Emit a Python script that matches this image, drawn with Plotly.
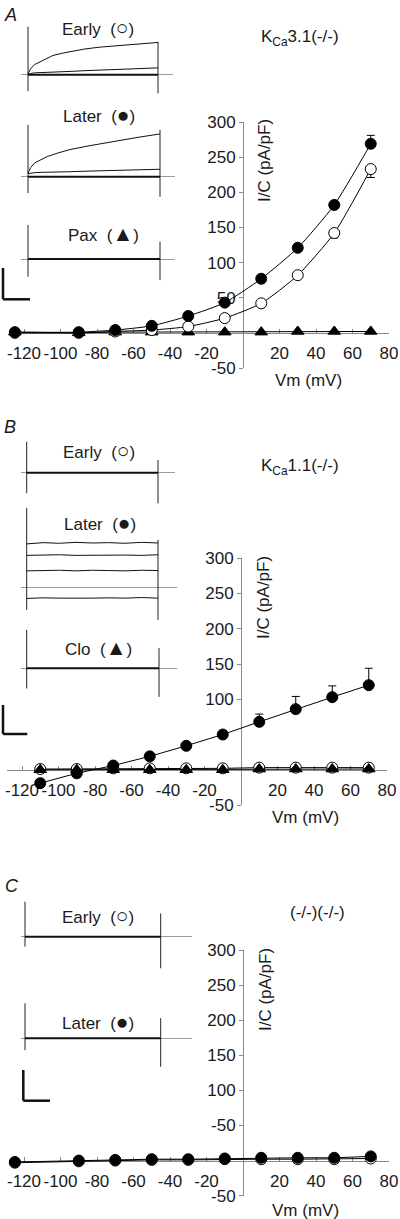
import plotly.graph_objects as go

W, H = 400, 1219
FONT = "Liberation Sans, Arial, sans-serif"

# ---------------- I-V data ----------------
A_V = [-125, -90, -70, -50, -30, -10, 10, 30, 50, 70]
A_later = [1, 1, 4, 10, 24, 43, 77, 121, 182, 269]
A_later_err = [0, 0, 1, 1, 2, 3, 3, 4, 5, 12]
A_early = [0, 0, 2, 4, 9, 21, 42, 82, 142, 233]
A_early_err = [0, 0, 1, 1, 2, 3, 3, 4, 7, 12]
A_pax = [1, 0, 1, 1, 1, 1, 1, 2, 2, 2]

B_V = [-110, -90, -70, -50, -30, -10, 10, 30, 50, 70]
B_later = [-19, -5, 6, 19, 34, 50, 68, 86, 103, 120]
B_later_err = [2, 2, 2, 3, 3, 4, 11, 18, 16, 24]
B_early = [1, 1, 2, 2, 2, 2, 3, 3, 3, 3]
B_clo = [0, 0, 0, 0, 0, 0, 1, 1, 1, 1]

C_V = [-125, -90, -70, -50, -30, -10, 10, 30, 50, 70]
C_later = [-2, 0, 1, 2, 2, 3, 4, 4, 4, 6]
C_early = [-3, -1, 0, 1, 1, 2, 2, 2, 2, 3]

X_TICKS = [-120, -100, -80, -60, -40, -20, 20, 40, 60, 80]
X_TEXT = ["-120", "-100", "-80", "-60", "-40", "-20", "20", "40", "60", "80"]
A_Y_TICKS = [-50, 50, 100, 150, 200, 250, 300]
A_Y_TEXT = ["-50", "50", "100", "150", "200", "250", "300"]
B_Y_TICKS = [-50, 100, 150, 200, 250, 300]
B_Y_TEXT = ["-50", "100", "150", "200", "250", "300"]
C_Y_TICKS = [-50, 50, 100, 150, 200, 250, 300]
C_Y_TEXT = ["-50", "-50", "100", "150", "200", "250", "300"]

# ---------------- inset (current trace) data: time in ms, current in nA ----------------
T_PULSE = [0, 480]
A_early_t = [0, 10, 25, 44, 70, 92, 130, 166, 210, 266, 320, 388, 430, 480]
A_early_I1 = [0.02, 0.2, 0.33, 0.42, 0.53, 0.62, 0.7, 0.76, 0.83, 0.89, 0.93, 0.98, 1.0, 1.04]
A_early_I2 = [0, 0.04, 0.06, 0.07, 0.08, 0.09, 0.1, 0.11, 0.13, 0.15, 0.17, 0.19, 0.2, 0.22]
A_early_trans = [[1.55, -0.53], [1.06, -0.60]]

A_later_t = [0, 10, 25, 44, 70, 107, 150, 218, 280, 340, 400, 480]
A_later_I1 = [0.12, 0.3, 0.45, 0.54, 0.65, 0.76, 0.87, 0.99, 1.09, 1.18, 1.27, 1.38]
A_later_I2 = [0.1, 0.12, 0.13, 0.14, 0.14, 0.15, 0.16, 0.18, 0.19, 0.2, 0.22, 0.24]
A_later_trans = [[1.67, -0.53], [1.51, -0.65]]

A_pax_trans = [[1.10, -0.57], [0.56, -0.68]]

B_early_trans = [[1.0, -0.66], [0.41, -0.99]]
B_later_t = [0, 60, 120, 180, 240, 300, 360, 420, 480]
B_later_I1 = [1.40, 1.44, 1.42, 1.45, 1.43, 1.44, 1.42, 1.45, 1.43]
B_later_I2 = [1.03, 1.04, 1.05, 1.03, 1.04, 1.05, 1.04, 1.03, 1.05]
B_later_I3 = [0.53, 0.54, 0.55, 0.53, 0.55, 0.54, 0.53, 0.55, 0.54]
B_later_I4 = [-0.36, -0.34, -0.35, -0.36, -0.35, -0.34, -0.35, -0.33, -0.35]
B_later_trans = [[2.56, -0.73], [1.53, -1.05]]
B_clo_trans = [[1.24, -0.65], [0.65, -0.92]]

C_early_trans = [[1.13, -0.32], [0.75, -1.02]]
C_later_trans = [[1.13, -0.38], [0.65, -0.92]]

PX_PER_NA = 31.0
X_MIN = -128


def fx(px):
    return px / W


def fy(py):
    return 1 - py / H


fig = go.Figure()
layout = dict(
    width=W, height=H, margin=dict(l=0, r=0, t=0, b=0, pad=0, autoexpand=False),
    paper_bgcolor="white", plot_bgcolor="rgba(0,0,0,0)",
    showlegend=False, font=dict(family=FONT, size=17, color="#1a1a1a"),
)
annotations = []
shapes = []

AX_COL = "#8a8a8a"


def iv_axes(idx, xl, xr, yt, yb, yticks, ytext):
    # xl, xr: pixel positions of -120 and 80 mV
    k = (xr - xl) / 200.0
    x0px = xl + 120 * k
    xmin_px = xl + (X_MIN + 120) * k
    y0px = yb - 50 / 350 * (yb - yt)
    sx = "" if idx == 1 else str(idx)
    layout["xaxis" + sx] = dict(
        domain=[fx(xmin_px), fx(xr)], range=[X_MIN, 80], anchor="free", position=fy(y0px),
        showgrid=False, zeroline=False, showline=True, linecolor=AX_COL, linewidth=1,
        ticks="inside", ticklen=4, tickcolor=AX_COL, tickvals=X_TICKS, ticktext=X_TEXT,
        tickangle=0, tickfont=dict(size=17), layer="below traces", automargin=False,
        ticklabelstandoff=5,
    )
    layout["yaxis" + sx] = dict(
        domain=[fy(yb), fy(yt)], range=[-50, 300], anchor="free", position=fx(x0px),
        showgrid=False, zeroline=False, showline=True, linecolor=AX_COL, linewidth=1,
        ticks="outside", ticklen=4, tickcolor=AX_COL, tickvals=yticks, ticktext=ytext,
        tickfont=dict(size=17), layer="below traces", automargin=False,
    )
    return "x" + sx, "y" + sx


def iv_trace(xa, ya, V, I, symbol, fill, shape, err=None, errdir=None):
    kw = {}
    if err is not None:
        zeros = [0] * len(err)
        kw["error_y"] = dict(
            type="data", symmetric=False,
            array=err if errdir == "up" else zeros,
            arrayminus=err if errdir == "down" else zeros,
            color="black", thickness=1, width=4,
        )
    fig.add_trace(go.Scatter(
        x=V, y=I, xaxis=xa, yaxis=ya, mode="lines+markers", cliponaxis=False,
        line=dict(color="black", width=1, shape=shape, smoothing=0.6),
        marker=dict(symbol=symbol, size=11, color=fill, line=dict(color="black", width=1)),
        **kw,
    ))


def inset(idx, xl, xr, t0, t1, zero_px, traces, trans, thick=True):
    sx = str(idx)
    ivals = [v for tr in traces for v in tr[1]] + [v for pair in trans for v in pair] + [0]
    imax, imin = max(ivals) + 0.05, min(ivals) - 0.05
    top_px = zero_px - imax * PX_PER_NA
    bot_px = zero_px - imin * PX_PER_NA
    tl = (xl - t0) / (t1 - t0) * 480
    tr_ = (xr - t0) / (t1 - t0) * 480
    layout["xaxis" + sx] = dict(domain=[fx(xl), fx(xr)], range=[tl, tr_], visible=False,
                                anchor="y" + sx, automargin=False)
    layout["yaxis" + sx] = dict(domain=[fy(bot_px), fy(top_px)], range=[imin, imax],
                                anchor="x" + sx, showgrid=False, showline=False,
                                showticklabels=False, ticks="", zeroline=True,
                                zerolinecolor="#9a9a9a", zerolinewidth=1, automargin=False)
    xa, ya = "x" + sx, "y" + sx
    for k, pair in enumerate(trans):
        fig.add_trace(go.Scatter(x=[T_PULSE[k], T_PULSE[k]], y=pair, xaxis=xa, yaxis=ya,
                                 mode="lines", line=dict(color="#222", width=1)))
    if thick:
        fig.add_trace(go.Scatter(x=T_PULSE, y=[0, 0], xaxis=xa, yaxis=ya, mode="lines",
                                 line=dict(color="#111", width=2)))
    for t, i in traces:
        fig.add_trace(go.Scatter(x=t, y=i, xaxis=xa, yaxis=ya, mode="lines",
                                 line=dict(color="#111", width=1)))


def text(px, py, s, size=17, italic=False, angle=0, xanchor="center"):
    annotations.append(dict(
        x=fx(px), y=fy(py), xref="paper", yref="paper", text=s, showarrow=False,
        xanchor=xanchor, yanchor="middle", textangle=angle,
        font=dict(family=FONT, size=size, color="#1a1a1a",
                  style="italic" if italic else "normal"),
    ))


def scalebar(x, ytop, ybot, xright):
    shapes.append(dict(type="line", xref="paper", yref="paper", x0=fx(x), x1=fx(x),
                       y0=fy(ytop), y1=fy(ybot), line=dict(color="#111", width=2.5)))
    shapes.append(dict(type="line", xref="paper", yref="paper", x0=fx(x), x1=fx(xright),
                       y0=fy(ybot), y1=fy(ybot), line=dict(color="#111", width=2.5)))


def sym(ch):
    return "<span style='font-size:21px'>" + ch + "</span>"


# ---------------- Panel A ----------------
xa, ya = iv_axes(1, 24, 389, 122, 368, A_Y_TICKS, A_Y_TEXT)
iv_trace(xa, ya, A_V, A_pax, "triangle-up", "black", "linear")
iv_trace(xa, ya, A_V, A_early, "circle", "white", "spline", A_early_err, "down")
iv_trace(xa, ya, A_V, A_later, "circle", "black", "spline", A_later_err, "up")

inset(4, 20.7, 172.7, 28, 158, 74.7, [(A_early_t, A_early_I1), (A_early_t, A_early_I2)], A_early_trans)
inset(5, 20.7, 175, 28, 160, 176.7, [(A_later_t, A_later_I1), (A_later_t, A_later_I2)], A_later_trans)
inset(6, 20.7, 175, 28, 160, 259, [], A_pax_trans)
scalebar(3, 268, 299.3, 30)

text(10, 15, "A", size=18, italic=True)
text(98, 27, "Early  (" + sym("○") + ")")
text(99, 115, "Later  (" + sym("●") + ")")
text(103, 234, "Pax  (" + sym("▲") + ")")
text(300, 38, "K<sub>Ca</sub>3.1(-/-)")
text(265, 161, "I/C (pA/pF)", angle=-90)
text(308, 380, "Vm (mV)")

# ---------------- Panel B ----------------
xa, ya = iv_axes(2, 22, 387, 558.3, 805, B_Y_TICKS, B_Y_TEXT)
iv_trace(xa, ya, B_V, B_early, "circle", "white", "linear")
iv_trace(xa, ya, B_V, B_clo, "triangle-up", "black", "linear")
iv_trace(xa, ya, B_V, B_later, "circle", "black", "linear", B_later_err, "up")

inset(7, 20.7, 175, 26.7, 158, 472.7, [], B_early_trans)
inset(8, 20.7, 176.7, 26.7, 158, 587.3,
      [(B_later_t, B_later_I1), (B_later_t, B_later_I2), (B_later_t, B_later_I3),
       (B_later_t, B_later_I4)], B_later_trans, thick=False)
inset(9, 20.7, 176.7, 26.7, 159, 668.3, [], B_clo_trans)
scalebar(3, 705, 734, 27.3)

text(10, 427, "B", size=18, italic=True)
text(99, 450, "Early  (" + sym("○") + ")")
text(100, 523, "Later  (" + sym("●") + ")")
text(98, 647, "Clo  (" + sym("▲") + ")")
text(300, 467, "K<sub>Ca</sub>1.1(-/-)")
text(263, 598, "I/C (pA/pF)", angle=-90)
text(305, 817, "Vm (mV)")

# ---------------- Panel C ----------------
xa, ya = iv_axes(3, 24, 389, 950, 1195.7, C_Y_TICKS, C_Y_TEXT)
iv_trace(xa, ya, C_V, C_early, "circle", "white", "linear")
iv_trace(xa, ya, C_V, C_later, "circle", "black", "linear")

inset(10, 20.7, 191.7, 25, 160.7, 936.7, [], C_early_trans)
inset(11, 20.7, 191.7, 25, 160.7, 1038.3, [], C_later_trans)
scalebar(23.3, 1070, 1100.7, 50)

text(12, 886, "C", size=18, italic=True)
text(98, 915, "Early  (" + sym("○") + ")")
text(98, 1021, "Later  (" + sym("●") + ")")
text(317, 912, "(-/-)(-/-)")
text(265, 990, "I/C (pA/pF)", angle=-90)
text(305, 1210, "Vm (mV)")

layout["annotations"] = annotations
layout["shapes"] = shapes
fig.update_layout(**layout)
fig.write_html(
    "out.html",
    config={"displayModeBar": False},
    post_script="document.body.style.margin='0';document.body.style.overflow='hidden';",
)
